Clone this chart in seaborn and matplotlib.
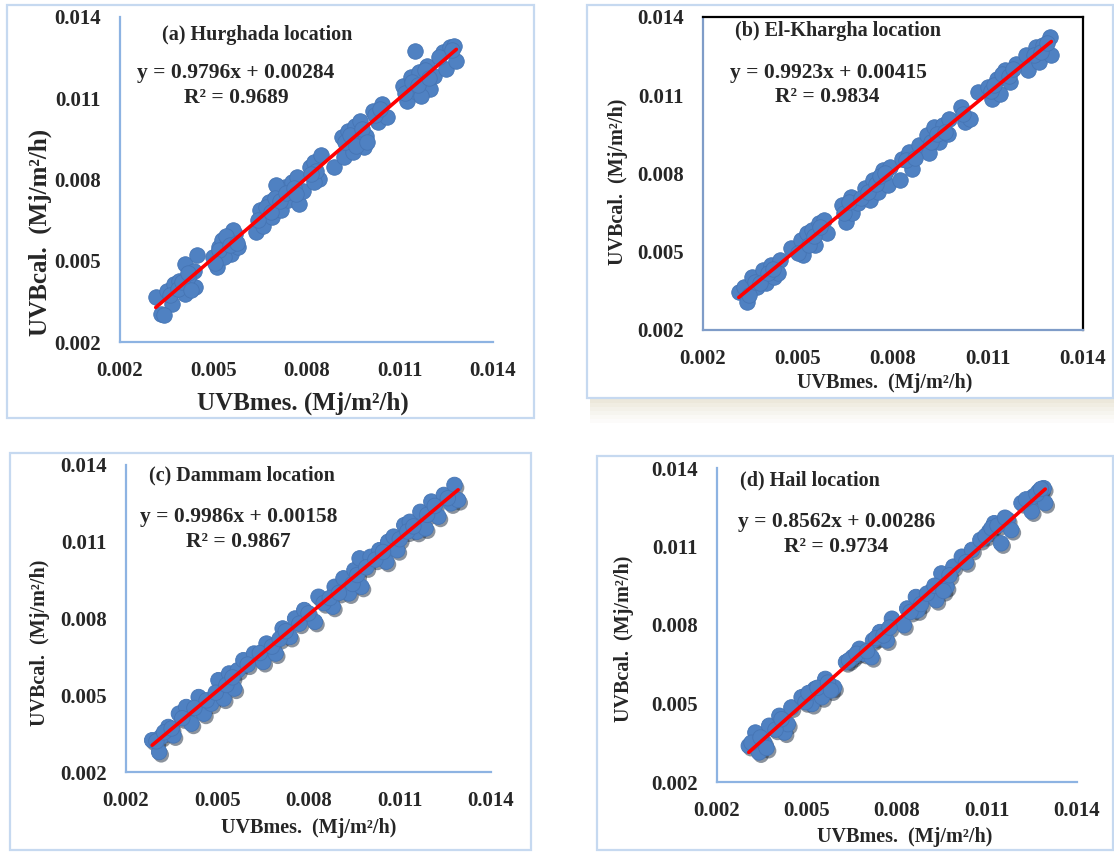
import numpy as np
import pandas as pd
import matplotlib
matplotlib.use("Agg")
import matplotlib.pyplot as plt
import seaborn as sns
from matplotlib.patches import Rectangle
import matplotlib.patheffects as pe

# ---------------- data ----------------
ticks = [0.002, 0.005, 0.008, 0.011, 0.014]
tick_labels = ["0.002", "0.005", "0.008", "0.011", "0.014"]

titles = ["(a) Hurghada location", "(b) El-Khargha location",
          "(c) Dammam location", "(d) Hail location"]
equations = ["y = 0.9796x + 0.00284", "y = 0.9923x + 0.00415",
             "y = 0.9986x + 0.00158", "y = 0.8562x + 0.00286"]
r2_labels = ["R² = 0.9689", "R² = 0.9834", "R² = 0.9867", "R² = 0.9734"]
xlabel_text = ["UVBmes. (Mj/m²/h)", "UVBmes.  (Mj/m²/h)",
               "UVBmes.  (Mj/m²/h)", "UVBmes.  (Mj/m²/h)"]
ylabel_text = ["UVBcal.  (Mj/m²/h)", "UVBcal.  (Mj/m²/h)",
               "UVBcal.  (Mj/m²/h)", "UVBcal.  (Mj/m²/h)"]

a_x = [0.00333, 0.00315, 0.00367, 0.00350, 0.00373, 0.00390, 0.00408, 0.00408,
       0.00430, 0.00442, 0.00448, 0.00437, 0.00420, 0.00340, 0.00360, 0.00385,
       0.00400, 0.00418, 0.00428,
       0.00512, 0.00517, 0.00529, 0.00546, 0.00558, 0.00569, 0.00581, 0.00546,
       0.00563, 0.00500, 0.00535, 0.00520, 0.00540, 0.00555, 0.00575, 0.00505,
       0.00638, 0.00650, 0.00661, 0.00679, 0.00690, 0.00708, 0.00719, 0.00730,
       0.00742, 0.00754, 0.00771, 0.00777, 0.00788, 0.00702, 0.00645, 0.00670,
       0.00685, 0.00700, 0.00715, 0.00735, 0.00760, 0.00765,
       0.00812, 0.00823, 0.00840, 0.00846, 0.00823, 0.00887, 0.00832, 0.00815,
       0.00915, 0.00921, 0.00933, 0.00944, 0.00956, 0.00967, 0.00973, 0.00985,
       0.00990, 0.00950, 0.00925, 0.00940, 0.00960, 0.00978, 0.00995,
       0.01013, 0.01031, 0.01042, 0.01060, 0.01020, 0.01038,
       0.01112, 0.01123, 0.01135, 0.01146, 0.01148, 0.01163, 0.01175, 0.01187,
       0.01198, 0.01210, 0.01169, 0.01118, 0.01140, 0.01158, 0.01180, 0.01195,
       0.01238, 0.01250, 0.01262, 0.01273, 0.01282, 0.01227, 0.01268]
a_y = [0.00305, 0.00366, 0.00341, 0.00390, 0.00415, 0.00427, 0.00378, 0.00489,
       0.00409, 0.00403, 0.00520, 0.00464, 0.00440, 0.00300, 0.00375, 0.00395,
       0.00420, 0.00455, 0.00392,
       0.00477, 0.00550, 0.00575, 0.00563, 0.00526, 0.00600, 0.00550, 0.00580,
       0.00612, 0.00514, 0.00514, 0.00540, 0.00590, 0.00560, 0.00565, 0.00490,
       0.00606, 0.00686, 0.00630, 0.00716, 0.00661, 0.00747, 0.00686, 0.00771,
       0.00723, 0.00790, 0.00809, 0.00710, 0.00759, 0.00778, 0.00650, 0.00700,
       0.00680, 0.00730, 0.00720, 0.00750, 0.00770, 0.00745,
       0.00846, 0.00864, 0.00802, 0.00889, 0.00790, 0.00846, 0.00830, 0.00820,
       0.00956, 0.00882, 0.00980, 0.00932, 0.00999, 0.00950, 0.01017, 0.00919,
       0.00962, 0.00901, 0.00940, 0.00965, 0.00925, 0.00985, 0.00940,
       0.01054, 0.01011, 0.01079, 0.01030, 0.01040, 0.01060,
       0.01147, 0.01091, 0.01178, 0.01128, 0.01276, 0.01196, 0.01140, 0.01220,
       0.01134, 0.01184, 0.01110, 0.01120, 0.01160, 0.01150, 0.01205, 0.01175,
       0.01270, 0.01208, 0.01288, 0.01294, 0.01239, 0.01251, 0.01280]

b_x = [0.00313, 0.00340, 0.00329, 0.00356, 0.00372, 0.00388, 0.00399, 0.00415,
       0.00425, 0.00442, 0.00436, 0.00479, 0.00511, 0.00517, 0.00527, 0.00543,
       0.00554, 0.00565, 0.00581, 0.00592, 0.00640, 0.00651, 0.00667, 0.00672,
       0.00688, 0.00710, 0.00726, 0.00737, 0.00753, 0.00769, 0.00785, 0.00791,
       0.00823, 0.00828, 0.00849, 0.00860, 0.00882, 0.00908, 0.00914, 0.00930,
       0.00946, 0.00957, 0.00978, 0.00973, 0.01016, 0.01026, 0.01042, 0.01069,
       0.01101, 0.01112, 0.01128, 0.01138, 0.01155, 0.01171, 0.01187, 0.01219,
       0.01225, 0.01252, 0.01262, 0.01273, 0.01295, 0.01300,
       0.00345, 0.00365, 0.00380, 0.00405, 0.00420, 0.00500, 0.00535, 0.00550,
       0.00570, 0.00645, 0.00660, 0.00700, 0.00720, 0.00745, 0.00760, 0.00775,
       0.00840, 0.00870, 0.00920, 0.00940, 0.00965, 0.01020, 0.01110, 0.01120,
       0.01145, 0.01165, 0.01180, 0.01245, 0.01268, 0.01285]
b_y = [0.00347, 0.00309, 0.00366, 0.00404, 0.00366, 0.00430, 0.00379, 0.00449,
       0.00404, 0.00468, 0.00417, 0.00513, 0.00545, 0.00487, 0.00570, 0.00583,
       0.00526, 0.00609, 0.00621, 0.00570, 0.00679, 0.00615, 0.00711, 0.00647,
       0.00685, 0.00743, 0.00698, 0.00774, 0.00730, 0.00813, 0.00755, 0.00826,
       0.00774, 0.00857, 0.00883, 0.00819, 0.00908, 0.00947, 0.00877, 0.00979,
       0.00921, 0.00985, 0.01010, 0.00953, 0.01055, 0.00998, 0.01010, 0.01113,
       0.01132, 0.01087, 0.01164, 0.01106, 0.01196, 0.01151, 0.01221, 0.01253,
       0.01196, 0.01285, 0.01228, 0.01291, 0.01323, 0.01253,
       0.00335, 0.00385, 0.00380, 0.00420, 0.00435, 0.00495, 0.00525, 0.00560,
       0.00595, 0.00650, 0.00690, 0.00705, 0.00730, 0.00760, 0.00790, 0.00800,
       0.00850, 0.00860, 0.00920, 0.00950, 0.00960, 0.01030, 0.01115, 0.01140,
       0.01180, 0.01175, 0.01200, 0.01255, 0.01265, 0.01300]

c_x = [0.00286, 0.00309, 0.00315, 0.00339, 0.00356, 0.00374, 0.00398, 0.00415,
       0.00439, 0.00456, 0.00480, 0.00504, 0.00521, 0.00539, 0.00556, 0.00568,
       0.00586, 0.00621, 0.00651, 0.00662, 0.00692, 0.00715, 0.00739, 0.00756,
       0.00786, 0.00821, 0.00833, 0.00880, 0.00886, 0.00915, 0.00933, 0.00951,
       0.00968, 0.00974, 0.01004, 0.01033, 0.01056, 0.01062, 0.01080, 0.01092,
       0.01115, 0.01133, 0.01156, 0.01168, 0.01185, 0.01204, 0.01227, 0.01245,
       0.01268, 0.01280, 0.01292,
       0.00300, 0.00325, 0.00350, 0.00385, 0.00425, 0.00465, 0.00495, 0.00530,
       0.00550, 0.00600, 0.00640, 0.00680, 0.00705, 0.00725, 0.00770, 0.00800,
       0.00850, 0.00870, 0.00900, 0.00945, 0.00960, 0.00990, 0.01020, 0.01045,
       0.01100, 0.01125, 0.01145, 0.01190, 0.01215, 0.01258]
c_y = [0.00324, 0.00278, 0.00337, 0.00376, 0.00343, 0.00428, 0.00454, 0.00389,
       0.00493, 0.00428, 0.00467, 0.00559, 0.00487, 0.00585, 0.00526, 0.00598,
       0.00637, 0.00663, 0.00630, 0.00702, 0.00663, 0.00761, 0.00728, 0.00800,
       0.00833, 0.00787, 0.00885, 0.00846, 0.00924, 0.00957, 0.00898, 0.00989,
       0.01035, 0.00924, 0.01041, 0.01067, 0.01022, 0.01100, 0.01120, 0.01067,
       0.01165, 0.01178, 0.01139, 0.01217, 0.01152, 0.01257, 0.01198, 0.01283,
       0.01250, 0.01322, 0.01263,
       0.00320, 0.00355, 0.00370, 0.00410, 0.00450, 0.00480, 0.00510, 0.00540,
       0.00570, 0.00620, 0.00665, 0.00690, 0.00720, 0.00750, 0.00780, 0.00820,
       0.00860, 0.00880, 0.00900, 0.00935, 0.00970, 0.01000, 0.01030, 0.01060,
       0.01110, 0.01140, 0.01160, 0.01205, 0.01240, 0.01270]

d_x = [0.00306, 0.00340, 0.00328, 0.00357, 0.00374, 0.00408, 0.00425, 0.00436,
       0.00448, 0.00482, 0.00516, 0.00527, 0.00550, 0.00561, 0.00590, 0.00630,
       0.00652, 0.00675, 0.00692, 0.00715, 0.00720, 0.00743, 0.00766, 0.00783,
       0.00823, 0.00834, 0.00863, 0.00868, 0.00914, 0.00931, 0.00948, 0.00965,
       0.00988, 0.01016, 0.01050, 0.01078, 0.01107, 0.01124, 0.01147, 0.01169,
       0.01181, 0.01215, 0.01249, 0.01255, 0.01272, 0.01289, 0.01294,
       0.00315, 0.00345, 0.00365, 0.00395, 0.00415, 0.00495, 0.00505, 0.00535,
       0.00570, 0.00580, 0.00640, 0.00665, 0.00700, 0.00730, 0.00755, 0.00775,
       0.00845, 0.00880, 0.00900, 0.00925, 0.00955, 0.00975, 0.01030, 0.01095,
       0.01115, 0.01135, 0.01160, 0.01230, 0.01265, 0.01280]
d_y = [0.00338, 0.00313, 0.00389, 0.00351, 0.00415, 0.00453, 0.00389, 0.00421,
       0.00485, 0.00524, 0.00498, 0.00556, 0.00524, 0.00594, 0.00562, 0.00658,
       0.00677, 0.00709, 0.00690, 0.00677, 0.00741, 0.00773, 0.00741, 0.00824,
       0.00799, 0.00863, 0.00907, 0.00856, 0.00927, 0.00895, 0.00997, 0.00946,
       0.01023, 0.01061, 0.01087, 0.01125, 0.01157, 0.01189, 0.01112, 0.01202,
       0.01163, 0.01266, 0.01234, 0.01291, 0.01310, 0.01323, 0.01266,
       0.00350, 0.00370, 0.00330, 0.00400, 0.00440, 0.00505, 0.00540, 0.00560,
       0.00580, 0.00550, 0.00665, 0.00690, 0.00700, 0.00750, 0.00760, 0.00790,
       0.00850, 0.00880, 0.00920, 0.00950, 0.00930, 0.00990, 0.01040, 0.01140,
       0.01170, 0.01180, 0.01210, 0.01280, 0.01300, 0.01320]

# ---------------- layout (pixels) ----------------
W, H = 1114, 852
def fx(px): return px / W
def fy(py): return 1 - py / H

sns.set_theme(style="white")
plt.rcParams['font.family'] = ['Liberation Serif', 'DejaVu Serif']
plt.rcParams['font.weight'] = 'bold'

fig = plt.figure(figsize=(W / 100, H / 100), dpi=100)
fig.patch.set_facecolor('white')

# outer frames
frame_col = '#c6d9f0'
frames = [(7, 5, 534, 418), (587, 5, 1113, 398), (10, 453, 531, 850), (597, 456, 1113, 850)]
# shadow for panel (b)
for i, al in enumerate([0.75, 0.6, 0.45, 0.32, 0.2, 0.1]):
    y0 = 399 + i * 4
    fig.add_artist(Rectangle((fx(590), fy(y0 + 4)), (1114 - 590) / W, 4 / H,
                             transform=fig.transFigure, facecolor='#e6e1d0',
                             edgecolor='none', alpha=al, zorder=0))
for (x0, y0, x1, y1) in frames:
    fig.add_artist(Rectangle((fx(x0), fy(y1)), (x1 - x0) / W, (y1 - y0) / H,
                             transform=fig.transFigure, fill=False,
                             edgecolor=frame_col, lw=1.6, zorder=1))

axes_px = [(120, 17, 493, 342), (703, 17, 1083, 330), (126, 465, 491, 772), (717, 468, 1077, 782)]
datasets = [(a_x, a_y), (b_x, b_y), (c_x, c_y), (d_x, d_y)]

title_pos = [(257, 35), (838, 31), (242, 475), (810, 480)]
eq_pos = [(236, 73), (828, 73), (239, 517), (837, 522)]
r2_pos = [(236, 98), (827, 97), (238, 542), (836, 547)]
xlab_pos = [(303, 403), (885, 383), (309, 828), (905, 837)]
ylab_pos = [(40, 232), (618, 182), (40, 643), (624, 639)]
lab_size = [18, 14.5, 14.5, 14.5]

spine_blue = '#8db3e2'
for i, ((l, t, r, b), (xs, ys)) in enumerate(zip(axes_px, datasets)):
    ax = fig.add_axes([fx(l), fy(b), (r - l) / W, (b - t) / H])
    ax.set_facecolor('none')
    df = pd.DataFrame({'x': xs, 'y': ys})
    sns.scatterplot(data=df, x='x', y='y', ax=ax, s=125, color='#4f81c2',
                    edgecolor='#4675b4', linewidth=0.6, zorder=3, legend=False)
    if i >= 2:
        for coll in ax.collections:
            coll.set_path_effects([pe.SimplePatchShadow(offset=(1.5, -2), alpha=0.5),
                                   pe.Normal()])
    sns.regplot(data=df, x='x', y='y', ax=ax, scatter=False, ci=None,
                line_kws={'color': '#ff0000', 'lw': 2.6, 'zorder': 4})
    ax.set_xlim(0.002, 0.014)
    ax.set_ylim(0.002, 0.014)
    ax.set_xticks(ticks)
    ax.set_xticklabels(tick_labels)
    ax.set_yticks(ticks)
    ax.set_yticklabels(tick_labels)
    ax.tick_params(axis='both', length=0, pad=14, labelsize=15)
    for lab in ax.get_xticklabels() + ax.get_yticklabels():
        lab.set_fontweight('bold')
    ax.set_xlabel('')
    ax.set_ylabel('')
    ax.grid(False)
    for sp in ['left', 'bottom']:
        ax.spines[sp].set_color(spine_blue if i != 1 else '#7f9cc8')
        ax.spines[sp].set_linewidth(1.6)
    if i == 1:
        for sp in ['top', 'right']:
            ax.spines[sp].set_color('black')
            ax.spines[sp].set_linewidth(1.6)
    else:
        ax.spines['top'].set_visible(False)
        ax.spines['right'].set_visible(False)

    fig.text(fx(title_pos[i][0]), fy(title_pos[i][1]), titles[i], ha='center', va='center',
             fontsize=14.5, fontweight='bold')
    fig.text(fx(eq_pos[i][0]), fy(eq_pos[i][1]), equations[i], ha='center', va='center',
             fontsize=15.5, fontweight='bold')
    fig.text(fx(r2_pos[i][0]), fy(r2_pos[i][1]), r2_labels[i], ha='center', va='center',
             fontsize=15.5, fontweight='bold')
    fig.text(fx(xlab_pos[i][0]), fy(xlab_pos[i][1]), xlabel_text[i], ha='center', va='center',
             fontsize=lab_size[i], fontweight='bold')
    fig.text(fx(ylab_pos[i][0]), fy(ylab_pos[i][1]), ylabel_text[i], ha='center', va='center',
             fontsize=lab_size[i], fontweight='bold', rotation=90)

fig.savefig('out.png', dpi=100, facecolor='white')
